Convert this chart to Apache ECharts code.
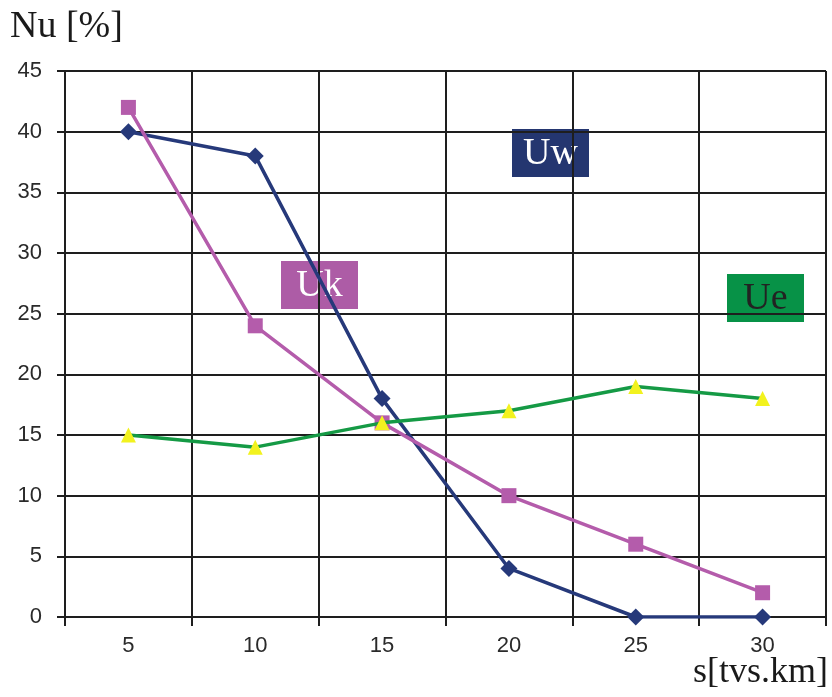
<!DOCTYPE html>
<html><head><meta charset="utf-8">
<script src="https://cdn.jsdelivr.net/npm/echarts@6/dist/echarts.min.js"></script>
<style>html,body{margin:0;padding:0;background:#fff}#c{width:832px;height:697px}</style>
</head><body><div id="c"></div>
<script>
var categories = ['5', '10', '15', '20', '25', '30'];
var uwValues = [40, 38, 18, 4, 0, 0];
var ukValues = [42, 24, 16, 10, 6, 2];
var ueValues = [15, 14, 16, 17, 19, 18];
var seriesNames = ['Uw', 'Uk', 'Ue'];

var chart = echarts.init(document.getElementById('c'));
var gridColor = '#1e1e1e';
var option = {
  animation: false,
  backgroundColor: '#fff',
  grid: {left: 65, right: 6, top: 71, bottom: 80, containLabel: false},
  xAxis: {
    type: 'category', data: categories, boundaryGap: true,
    axisLine: {show: true, lineStyle: {color: gridColor, width: 2}},
    axisTick: {show: true, length: 9, alignWithLabel: false, interval: 0, lineStyle: {color: gridColor, width: 2}},
    axisLabel: {color: '#2a2a2a', fontFamily: 'Liberation Sans, Arial', fontSize: 22, margin: 18, interval: 0},
    splitLine: {show: true, interval: 0, lineStyle: {color: gridColor, width: 2}}
  },
  yAxis: {
    type: 'value', min: 0, max: 45, interval: 5,
    axisLine: {show: true, lineStyle: {color: gridColor, width: 2}},
    axisTick: {show: true, length: 8, lineStyle: {color: gridColor, width: 2}},
    axisLabel: {color: '#2a2a2a', fontFamily: 'Liberation Sans, Arial', fontSize: 22, margin: 23},
    splitLine: {show: true, lineStyle: {color: gridColor, width: 2}}
  },
  series: [
    {name: seriesNames[0], type: 'line', data: uwValues, symbol: 'diamond', symbolSize: 17,
     lineStyle: {color: '#26397a', width: 3.5}, itemStyle: {color: '#26397a'}, z: 3},
    {name: seriesNames[1], type: 'line', data: ukValues, symbol: 'rect', symbolSize: 15,
     lineStyle: {color: '#b45cab', width: 3.5}, itemStyle: {color: '#b45cab'}, z: 4},
    {name: seriesNames[2], type: 'line', data: ueValues, symbol: 'triangle', symbolSize: 15,
     lineStyle: {color: '#159a45', width: 3.5}, itemStyle: {color: '#f2f21e'}, z: 5}
  ],
  graphic: [
    {type: 'text', left: 10, top: 8, style: {text: 'Nu [%]', fontFamily: 'Liberation Serif, Times New Roman', fontSize: 38, fill: '#1a1a1a'}},
    {type: 'text', right: 4, top: 655, style: {text: 's[tvs.km]', fontFamily: 'Liberation Serif, Times New Roman', fontSize: 36, fill: '#1a1a1a'}},
    {type: 'group', left: 512, top: 129, z: 10, children: [
      {type: 'rect', shape: {x: 0, y: 0, width: 77, height: 48}, style: {fill: '#243670'}},
      {type: 'text', x: 38.5, y: 25, style: {text: seriesNames[0], fontFamily: 'Liberation Serif, Times New Roman', fontSize: 38, fill: '#fff', align: 'center', verticalAlign: 'middle'}}
    ]},
    {type: 'group', left: 281, top: 261, z: 10, children: [
      {type: 'rect', shape: {x: 0, y: 0, width: 77, height: 48}, style: {fill: '#ad5ca6'}},
      {type: 'text', x: 38.5, y: 25, style: {text: seriesNames[1], fontFamily: 'Liberation Serif, Times New Roman', fontSize: 38, fill: '#fff', align: 'center', verticalAlign: 'middle'}}
    ]},
    {type: 'group', left: 727, top: 274, z: 10, children: [
      {type: 'rect', shape: {x: 0, y: 0, width: 77, height: 48}, style: {fill: '#079247'}},
      {type: 'text', x: 38.5, y: 25, style: {text: seriesNames[2], fontFamily: 'Liberation Serif, Times New Roman', fontSize: 38, fill: '#222', align: 'center', verticalAlign: 'middle'}}
    ]}
  ]
};
chart.setOption(option);
</script></body></html>
